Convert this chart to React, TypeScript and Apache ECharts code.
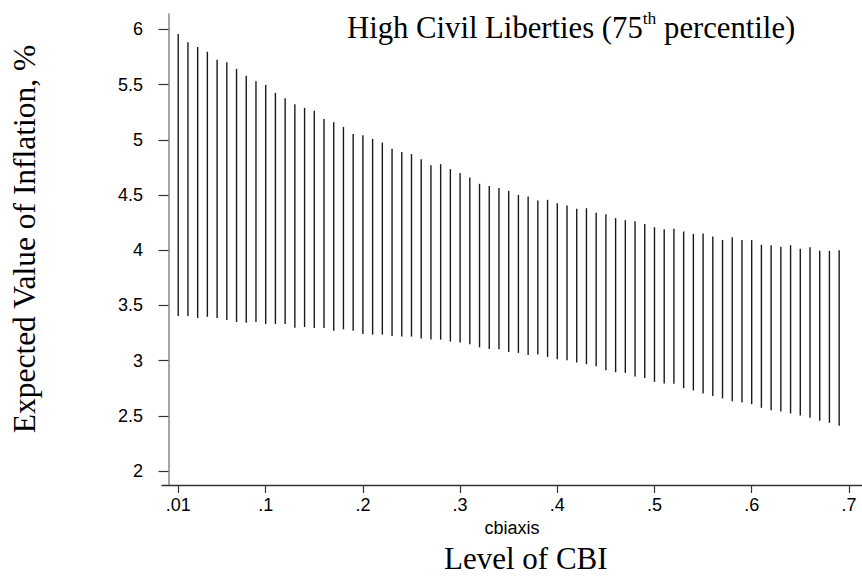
import React, { useEffect, useRef } from "react";
import * as echarts from "echarts";

const cbiValues = [
  0.01, 0.02, 0.03, 0.04, 0.05, 0.06, 0.07, 0.08, 0.09, 0.1,
  0.11, 0.12, 0.13, 0.14, 0.15, 0.16, 0.17, 0.18, 0.19, 0.2,
  0.21, 0.22, 0.23, 0.24, 0.25, 0.26, 0.27, 0.28, 0.29, 0.3,
  0.31, 0.32, 0.33, 0.34, 0.35, 0.36, 0.37, 0.38, 0.39, 0.4,
  0.41, 0.42, 0.43, 0.44, 0.45, 0.46, 0.47, 0.48, 0.49, 0.5,
  0.51, 0.52, 0.53, 0.54, 0.55, 0.56, 0.57, 0.58, 0.59, 0.6,
  0.61, 0.62, 0.63, 0.64, 0.65, 0.66, 0.67, 0.68, 0.69,
];

const upperValues = [
  5.957, 5.884, 5.839, 5.796, 5.724, 5.703, 5.642, 5.579, 5.531, 5.497,
  5.425, 5.377, 5.322, 5.289, 5.262, 5.189, 5.159, 5.117, 5.053, 5.041,
  5.008, 4.975, 4.918, 4.888, 4.87, 4.824, 4.77, 4.779, 4.734, 4.698,
  4.658, 4.601, 4.582, 4.562, 4.537, 4.501, 4.486, 4.449, 4.456, 4.426,
  4.404, 4.374, 4.38, 4.338, 4.326, 4.29, 4.272, 4.263, 4.238, 4.208,
  4.19, 4.193, 4.169, 4.148, 4.151, 4.123, 4.093, 4.117, 4.091, 4.091,
  4.048, 4.045, 4.03, 4.045, 4.012, 4.027, 3.994, 3.994, 4.0,
];

const lowerValues = [
  3.403, 3.403, 3.385, 3.397, 3.385, 3.367, 3.349, 3.343, 3.349, 3.331,
  3.331, 3.331, 3.298, 3.304, 3.295, 3.295, 3.271, 3.283, 3.271, 3.24,
  3.235, 3.235, 3.222, 3.217, 3.217, 3.201, 3.19, 3.19, 3.172, 3.163,
  3.147, 3.12, 3.105, 3.102, 3.078, 3.069, 3.051, 3.054, 3.033, 3.012,
  3.003, 2.982, 2.967, 2.949, 2.912, 2.894, 2.888, 2.855, 2.843, 2.807,
  2.792, 2.789, 2.75, 2.729, 2.702, 2.68, 2.657, 2.632, 2.62, 2.605,
  2.572, 2.551, 2.539, 2.521, 2.503, 2.482, 2.454, 2.436, 2.409,
];

const xTickValues = [0.01, 0.1, 0.2, 0.3, 0.4, 0.5, 0.6, 0.7];
const xTickLabels = [".01", ".1", ".2", ".3", ".4", ".5", ".6", ".7"];
const yTickValues = [2, 2.5, 3, 3.5, 4, 4.5, 5, 5.5, 6];

const SANS = "'Liberation Sans', Arial, sans-serif";
const SERIF = "'Liberation Serif', 'Times New Roman', serif";

export default function App() {
  const ref = useRef<HTMLDivElement>(null);

  useEffect(() => {
    if (!ref.current) return;
    const chart = echarts.init(ref.current, null, { renderer: "svg" });
    const data = cbiValues.map((x, i) => [x, lowerValues[i], upperValues[i]]);

    chart.setOption({
      animation: false,
      backgroundColor: "#ffffff",
      grid: { left: 162, right: 0, top: 14, bottom: 93, containLabel: false },
      title: {
        text: "{a|High Civil Liberties (75}{b|th}{a| percentile)}",
        left: 342,
        top: 4,
        textStyle: {
          fontWeight: "normal",
          rich: {
            a: {
              fontFamily: SERIF,
              fontSize: 30.7,
              fontWeight: "normal",
              color: "#000",
              lineHeight: 34,
              verticalAlign: "bottom",
            },
            b: {
              fontFamily: SERIF,
              fontSize: 17.5,
              fontWeight: "normal",
              color: "#000",
              lineHeight: 34,
              verticalAlign: "top",
            },
          },
        },
      },
      xAxis: {
        type: "value",
        min: -0.00669,
        max: 0.7135,
        name: "cbiaxis",
        nameLocation: "middle",
        nameGap: 30,
        nameTextStyle: { fontFamily: SANS, fontSize: 18, color: "#000" },
        splitLine: { show: false },
        axisLine: { show: true, lineStyle: { color: "#333", width: 1.3 } },
        axisTick: {
          show: true,
          length: 8,
          customValues: xTickValues,
          lineStyle: { color: "#333", width: 1.2 },
        },
        axisLabel: {
          show: true,
          customValues: xTickValues,
          margin: 11,
          fontFamily: SANS,
          fontSize: 18,
          color: "#000",
          formatter: (v: number) => {
            const idx = xTickValues.findIndex((t) => Math.abs(t - v) < 1e-9);
            return idx >= 0 ? xTickLabels[idx] : "";
          },
        },
      },
      yAxis: {
        type: "value",
        min: 1.873,
        max: 6.139,
        splitLine: { show: false },
        axisLine: { show: true, lineStyle: { color: "#888", width: 1.5 } },
        axisTick: {
          show: true,
          length: 10,
          customValues: yTickValues,
          lineStyle: { color: "#333", width: 1.2 },
        },
        axisLabel: {
          show: true,
          customValues: yTickValues,
          margin: 19,
          fontFamily: SANS,
          fontSize: 18,
          color: "#000",
          formatter: (v: number) => String(v),
        },
      },
      graphic: [
        {
          type: "text",
          left: 444,
          top: 543,
          style: {
            text: "Level of CBI",
            font: `31px ${SERIF}`,
            fill: "#000",
          },
        },
        {
          type: "text",
          x: 24,
          y: 239,
          rotation: Math.PI / 2,
          style: {
            text: "Expected Value of Inflation, %",
            font: `31.5px ${SERIF}`,
            fill: "#000",
            align: "center",
            verticalAlign: "middle",
          },
        },
      ],
      series: [
        {
          type: "custom",
          data,
          encode: { x: 0, y: [1, 2] },
          renderItem: (params: any, api: any) => {
            const x = api.value(0);
            const p1 = api.coord([x, api.value(1)]);
            const p2 = api.coord([x, api.value(2)]);
            return {
              type: "line",
              shape: { x1: p1[0], y1: p1[1], x2: p2[0], y2: p2[1] },
              style: { stroke: "#1a1a1a", lineWidth: 1.4 },
            };
          },
        },
      ],
    });

    return () => chart.dispose();
  }, []);

  return (
    <div
      ref={ref}
      style={{ position: "fixed", left: 0, top: 0, width: 862, height: 578 }}
    />
  );
}
